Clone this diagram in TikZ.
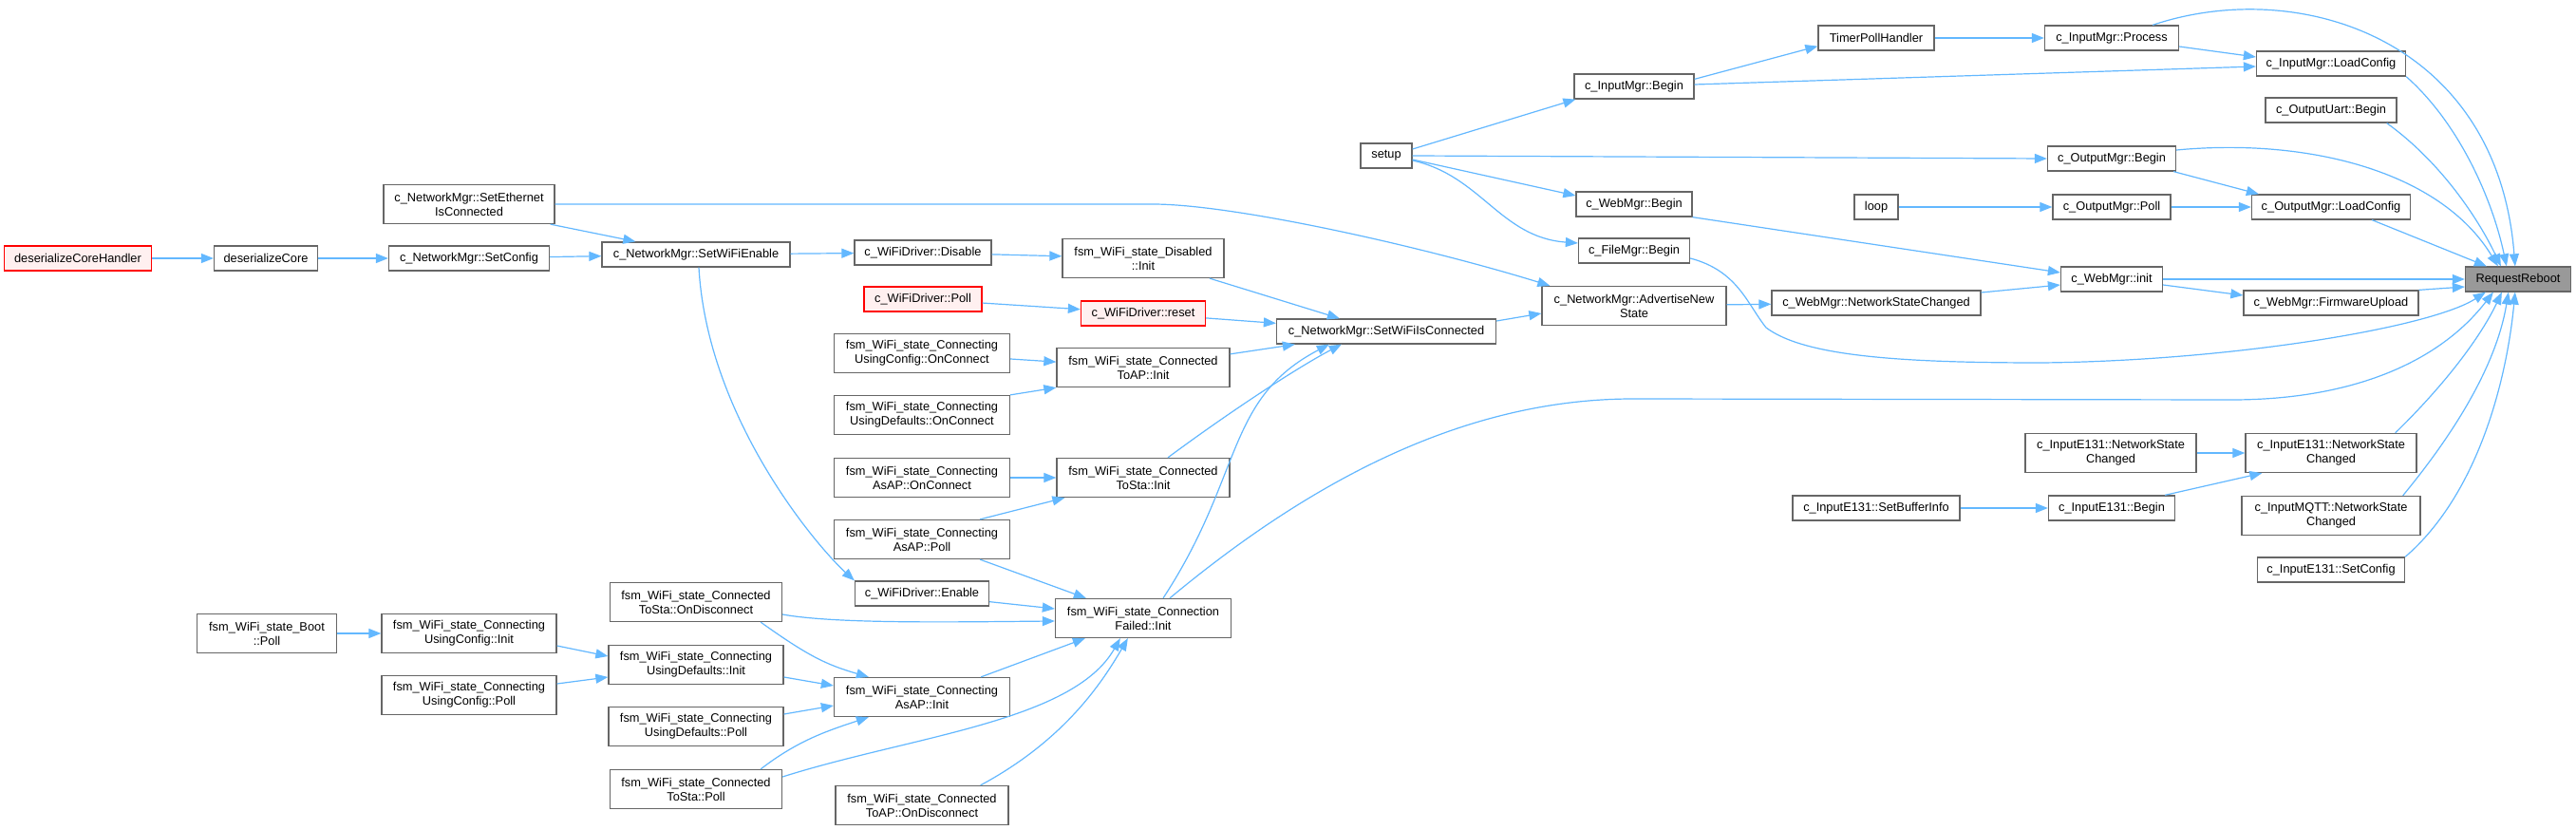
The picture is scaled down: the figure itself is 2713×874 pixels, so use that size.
\documentclass[tikz,border=0pt]{standalone}
\usepackage{fontspec}
\setmainfont{Liberation Sans}
\usetikzlibrary{arrows.meta,calc}
\definecolor{edgec}{HTML}{63B8FF}
\definecolor{boxc}{HTML}{666666}
\definecolor{redfill}{HTML}{FFF0F0}
\definecolor{rrfill}{HTML}{999999}
\tikzset{
  box/.style={draw=boxc, fill=white, line width=1.3pt, align=center, inner xsep=3pt, inner ysep=2pt,
    font=\fontsize{12.8}{15}\selectfont, minimum height=26},
  two/.style={minimum height=41},
  redbox/.style={box, draw=red, fill=redfill},
  rrbox/.style={box, fill=rrfill},
  e/.style={draw=edgec, line width=1.2pt, -{Triangle[length=13pt,width=10pt]}},
}
\begin{document}
\begin{tikzpicture}[x=1pt,y=-1pt]
\fill[white] (0,0) rectangle (2713,874);
\useasboundingbox (0,0) rectangle (2713,874);
% nodes
\node[redbox, minimum width=155] (dch) at (82,272) {deserializeCoreHandler};
\node[box, minimum width=109] (dcore) at (280,272) {deserializeCore};
\node[box, minimum width=169] (nmcfg) at (494,272) {c\_NetworkMgr::SetConfig};
\node[box, two, minimum width=180] (eth) at (494,215) {c\_NetworkMgr::SetEthernet\\IsConnected};
\node[box, minimum width=198] (wen) at (733,268) {c\_NetworkMgr::SetWiFiEnable};
\node[box, minimum width=144] (dis) at (972,266) {c\_WiFiDriver::Disable};
\node[box, two, minimum width=170] (disinit) at (1204,272) {fsm\_WiFi\_state\_Disabled\\::Init};
\node[redbox, minimum width=124] (wdpoll) at (972,315) {c\_WiFiDriver::Poll};
\node[redbox, minimum width=131] (reset) at (1204,330) {c\_WiFiDriver::reset};
\node[box, two, minimum width=185] (ucon) at (971,372) {fsm\_WiFi\_state\_Connecting\\UsingConfig::OnConnect};
\node[box, two, minimum width=182] (toapinit) at (1204,387) {fsm\_WiFi\_state\_Connected\\ToAP::Init};
\node[box, two, minimum width=185] (udon) at (971,437) {fsm\_WiFi\_state\_Connecting\\UsingDefaults::OnConnect};
\node[box, two, minimum width=185] (asapon) at (971,503) {fsm\_WiFi\_state\_Connecting\\AsAP::OnConnect};
\node[box, two, minimum width=182] (tostainit) at (1204,503) {fsm\_WiFi\_state\_Connected\\ToSta::Init};
\node[box, two, minimum width=185] (asappoll) at (971,568) {fsm\_WiFi\_state\_Connecting\\AsAP::Poll};
\node[box, minimum width=141] (enable) at (971,625) {c\_WiFiDriver::Enable};
\node[box, two, minimum width=185] (cfinit) at (1204,651) {fsm\_WiFi\_state\_Connection\\Failed::Init};
\node[box, two, minimum width=181] (tostaod) at (733,634) {fsm\_WiFi\_state\_Connected\\ToSta::OnDisconnect};
\node[box, two, minimum width=184] (udinit) at (733,700) {fsm\_WiFi\_state\_Connecting\\UsingDefaults::Init};
\node[box, two, minimum width=184] (udpoll) at (733,765) {fsm\_WiFi\_state\_Connecting\\UsingDefaults::Poll};
\node[box, two, minimum width=181] (tostapoll) at (733,831) {fsm\_WiFi\_state\_Connected\\ToSta::Poll};
\node[box, two, minimum width=185] (asapinit) at (971,734) {fsm\_WiFi\_state\_Connecting\\AsAP::Init};
\node[box, two, minimum width=182] (toapod) at (971,848) {fsm\_WiFi\_state\_Connected\\ToAP::OnDisconnect};
\node[box, two, minimum width=147] (bootpoll) at (281,667) {fsm\_WiFi\_state\_Boot\\::Poll};
\node[box, two, minimum width=184] (ucinit) at (494,667) {fsm\_WiFi\_state\_Connecting\\UsingConfig::Init};
\node[box, two, minimum width=184] (ucpoll) at (494,732) {fsm\_WiFi\_state\_Connecting\\UsingConfig::Poll};
\node[box, minimum width=231] (swic) at (1460,349) {c\_NetworkMgr::SetWiFiIsConnected};
\node[box, minimum width=54] (setup) at (1460,164) {setup};
\node[box, two, minimum width=194] (adv) at (1721,322) {c\_NetworkMgr::AdvertiseNew\\State};
\node[box, minimum width=122] (wmbegin) at (1721,215) {c\_WebMgr::Begin};
\node[box, minimum width=117] (fmbegin) at (1721,264) {c\_FileMgr::Begin};
\node[box, minimum width=126] (imbegin) at (1721,91) {c\_InputMgr::Begin};
\node[box, minimum width=122] (timer) at (1976,40) {TimerPollHandler};
\node[box, minimum width=46] (loop) at (1976,218) {loop};
\node[box, minimum width=220] (wmnsc) at (1976,319) {c\_WebMgr::NetworkStateChanged};
\node[box, minimum width=176] (setbuf) at (1976,535) {c\_InputE131::SetBufferInfo};
\node[box, minimum width=141] (process) at (2224,40) {c\_InputMgr::Process};
\node[box, minimum width=135] (ombegin) at (2224,167) {c\_OutputMgr::Begin};
\node[box, minimum width=124] (ompoll) at (2224,218) {c\_OutputMgr::Poll};
\node[box, minimum width=107] (wminit) at (2224,294) {c\_WebMgr::init};
\node[box, two, minimum width=180] (e131l) at (2223,477) {c\_InputE131::NetworkState\\Changed};
\node[box, minimum width=133] (e131begin) at (2224,535) {c\_InputE131::Begin};
\node[box, minimum width=157] (imload) at (2455,67) {c\_InputMgr::LoadConfig};
\node[box, minimum width=138] (ouart) at (2455,116) {c\_OutputUart::Begin};
\node[box, minimum width=167] (omload) at (2455,218) {c\_OutputMgr::LoadConfig};
\node[box, minimum width=184] (fwup) at (2455,319) {c\_WebMgr::FirmwareUpload};
\node[box, two, minimum width=180] (e131r) at (2455,477) {c\_InputE131::NetworkState\\Changed};
\node[box, two, minimum width=188] (mqtt) at (2455,543) {c\_InputMQTT::NetworkState\\Changed};
\node[box, minimum width=155] (e131cfg) at (2455,600) {c\_InputE131::SetConfig};
\node[rrbox, minimum width=111] (rr) at (2652,294) {RequestReboot};
% edges
\draw[e] (dch) -- (dcore);
\draw[e] (dcore) -- (nmcfg);
\draw[e] (nmcfg) -- (wen);
\draw[e] ($(eth.south east)+(-5,0)$) -- ($(wen.north west)+(36,0)$);
\draw[e] (eth.east) -- (1214,215) .. controls (1300,215) and (1500,260) .. ($(adv.north west)+(9,0)$);
\draw[e] (wen) -- (dis);
\draw[e] ($(wen.south)+(3,0)$) .. controls (745,440) and (860,575) .. (enable.north west);
\draw[e] (dis) -- (disinit);
\draw[e] ($(disinit.south)+(70,0)$) -- ($(swic.north west)+(67,0)$);
\draw[e] (wdpoll) -- (reset);
\draw[e] (reset) -- (swic);
\draw[e] (ucon) -- (toapinit);
\draw[e] (udon.north east) -- (toapinit.south west);
\draw[e] ($(toapinit.north east)+(0,7)$) -- ($(swic.south west)+(20,0)$);
\draw[e] (asapon) -- (tostainit);
\draw[e] ($(asappoll.north east)+(-32,0)$) -- ($(tostainit.south west)+(9,0)$);
\draw[e] ($(tostainit.north)+(26,0)$) .. controls (1300,430) and (1370,385) .. ($(swic.south west)+(69,0)$);
\draw[e] ($(cfinit.north)+(21,0)$) .. controls (1310,500) and (1290,420) .. ($(swic.south west)+(56,0)$);
\draw[e] ($(cfinit.north)+(28,0)$) .. controls (1400,490) and (1560,420) .. (1720,420) -- (2350,421) .. controls (2480,421) and (2570,380) .. ($(rr.south west)+(30,0)$);
\draw[e] ($(asappoll.south east)+(-32,0)$) -- ($(cfinit.north west)+(33,0)$);
\draw[e] ($(enable.south east)+(0,-5)$) -- ($(cfinit.west)+(0,-10)$);
\draw[e] ($(tostaod.east)+(0,13)$) .. controls (880,657) and (1000,655) .. ($(cfinit.west)+(0,3)$);
\draw[e] ($(tostaod.south east)+(-23,0)$) .. controls (850,690) and (870,700) .. ($(asapinit.north west)+(37,0)$);
\draw[e] ($(udinit.east)+(0,13)$) -- ($(asapinit.west)+(0,-12)$);
\draw[e] ($(udpoll.east)+(0,-13)$) -- ($(asapinit.west)+(0,9)$);
\draw[e] ($(tostapoll.north east)+(-23,0)$) .. controls (840,780) and (870,770) .. ($(asapinit.south west)+(37,0)$);
\draw[e] ($(tostapoll.east)+(0,-13)$) .. controls (960,775) and (1130,760) .. ($(cfinit.south west)+(69,0)$);
\draw[e] ($(asapinit.north east)+(-31,0)$) -- ($(cfinit.south west)+(32,0)$);
\draw[e] ($(toapod.north east)+(-30,0)$) .. controls (1120,780) and (1160,720) .. ($(cfinit.south west)+(77,0)$);
\draw[e] (bootpoll) -- (ucinit);
\draw[e] ($(ucinit.east)+(0,13)$) -- ($(udinit.west)+(0,-9)$);
\draw[e] ($(ucpoll.east)+(0,-12)$) -- ($(udinit.west)+(0,13)$);
\draw[e] ($(swic.east)+(0,-11)$) -- ($(adv.west)+(0,8)$);
\draw[e] (adv) -- (wmnsc);
\draw[e] ($(wmnsc.east)+(0,-11)$) -- ($(wminit.west)+(0,6)$);
\draw[e] ($(setup.east)+(0,-7)$) -- ($(imbegin.south west)+(2,0)$);
\draw[e] (setup.east) -- (ombegin.west);
\draw[e] ($(setup.east)+(0,4)$) -- ($(wmbegin.west)+(0,-9)$);
\draw[e] ($(setup.east)+(0,5)$) .. controls (1560,185) and (1580,250) .. ($(fmbegin.west)+(0,-8)$);
\draw[e] ($(imbegin.north east)+(0,6)$) -- ($(timer.south west)+(0,-5)$);
\draw[e] ($(imbegin.east)+(0,-2)$) -- ($(imload.west)+(0,3)$);
\draw[e] (timer) -- (process);
\draw[e] ($(process.east)+(0,9)$) -- ($(imload.west)+(0,-7)$);
\draw[e] ($(process.north east)+(-28,0)$) .. controls (2420,-25) and (2630,40) .. ($(rr.north west)+(53,0)$);
\draw[e] (imload.south east) .. controls (2590,130) and (2625,210) .. ($(rr.north west)+(44,0)$);
\draw[e] ($(ouart.south east)+(-11,0)$) .. controls (2570,170) and (2610,230) .. ($(rr.north west)+(38,0)$);
\draw[e] ($(ombegin.south east)+(-3,0)$) -- ($(omload.north west)+(8,0)$);
\draw[e] ($(ombegin.east)+(0,-9)$) .. controls (2430,145) and (2570,180) .. ($(rr.north west)+(35,0)$);
\draw[e] (loop) -- (ompoll);
\draw[e] (ompoll) -- (omload);
\draw[e] ($(omload.south east)+(-41,0)$) -- ($(rr.north west)+(23,0)$);
\draw[e] (wmbegin.south east) -- ($(wminit.west)+(0,-7)$);
\draw[e] (wminit) -- (rr);
\draw[e] ($(wminit.east)+(0,6)$) -- ($(fwup.west)+(0,-8)$);
\draw[e] (fwup.north east) -- ($(rr.west)+(0,8)$);
\draw[e] ($(fmbegin.east)+(0,8)$) .. controls (1830,285) and (1840,320) .. (1860,345) .. controls (1900,375) and (2000,382) .. (2150,382) .. controls (2350,380) and (2560,345) .. ($(rr.south west)+(22,0)$);
\draw[e] (e131l) -- (e131r);
\draw[e] (setbuf) -- (e131begin);
\draw[e] ($(e131begin.north east)+(-11,0)$) -- ($(e131r.south west)+(18,0)$);
\draw[e] ($(e131r.north east)+(-23,0)$) .. controls (2580,400) and (2615,350) .. ($(rr.south west)+(39,0)$);
\draw[e] ($(mqtt.north east)+(-19,0)$) .. controls (2590,450) and (2630,380) .. ($(rr.south west)+(46,0)$);
\draw[e] (e131cfg.north east) .. controls (2610,520) and (2640,400) .. ($(rr.south west)+(53,0)$);
\end{tikzpicture}
\end{document}
